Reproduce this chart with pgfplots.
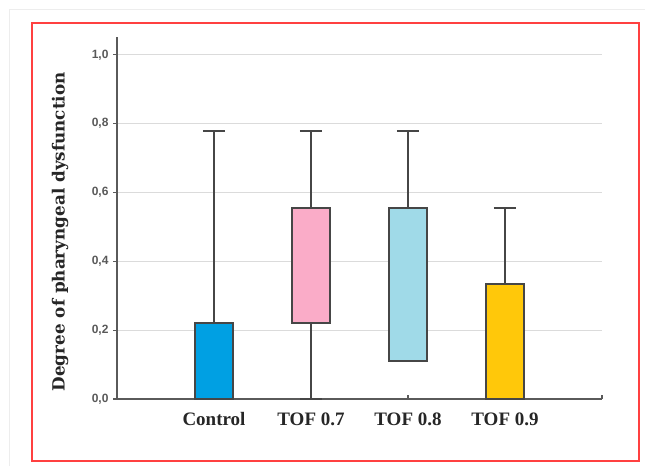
\documentclass[border=0pt]{standalone}
\usepackage{pgfplots}
\pgfplotsset{compat=1.18}
\usepgfplotslibrary{statistics}
\usepackage{fontspec}
\setmainfont{Liberation Serif}
\newfontfamily\tickfont{Liberation Sans}
\newfontfamily\labfont{DejaVu Serif}
\definecolor{cCtrl}{RGB}{0,160,227}
\definecolor{cP}{RGB}{250,172,200}
\definecolor{cLB}{RGB}{160,218,232}
\definecolor{cY}{RGB}{255,200,10}
\definecolor{axgray}{RGB}{90,90,90}
\definecolor{boxline}{RGB}{70,70,70}
\begin{document}
\begin{tikzpicture}
\useasboundingbox (0pt,0pt) rectangle (645pt,466pt);
\draw[black!7, line width=0.8pt] (9pt,0pt) |- (645pt,457pt);
\draw[red!75!white, line width=1.6pt] (32pt,443pt) rectangle (639pt,5pt);
\begin{axis}[
  at={(117pt,67pt)}, anchor=south west,
  scale only axis, width=485pt, height=362pt,
  xmin=0, xmax=5, ymin=0, ymax=1.052,
  clip=false,
  axis lines=left,
  axis line style={-, draw=axgray, line width=1.6pt},
  ymajorgrids,
  grid style={black!14, line width=1.2pt},
  ytick={0,0.2,0.4,0.6,0.8,1.0},
  xtick={1,2,3,4,5},
  xticklabels={Control,TOF 0.7,TOF 0.8,TOF 0.9,},
  xtick align=inside, ytick align=outside,
  major tick length=4pt,
  tick style={draw=axgray, line width=1.2pt},
  boxplot/draw direction=y,
  boxplot/every box/.style={draw=boxline, line width=2.1pt},
  boxplot/every whisker/.style={draw=boxline, line width=1.8pt},
  boxplot/every median/.style={draw=boxline, line width=1.8pt},
  yticklabel style={/pgf/number format/use comma, /pgf/number format/fixed, /pgf/number format/fixed zerofill, /pgf/number format/precision=1, /pgf/number format/assume math mode=true, font=\tickfont\fontsize{12}{14}\selectfont\bfseries, text=black!65, xshift=-1pt},
  xticklabel style={font=\fontsize{19}{22}\selectfont\bfseries, text=black!85, yshift=-10pt},
  ylabel={Degree of pharyngeal dysfunction},
  ylabel style={font=\labfont\fontsize{16.8}{19}\selectfont\bfseries, text=black!85, at={(axis description cs:-0.1175,0.462)}, anchor=center},
]
\addplot[boxplot prepared={draw position=1, lower whisker=0, lower quartile=0, median=0, upper quartile=0.222, upper whisker=0.778, box extend=0.4, whisker extend=0.23}, fill=cCtrl, draw=boxline] coordinates {};
\addplot[boxplot prepared={draw position=2, lower whisker=0, lower quartile=0.222, median=0.222, upper quartile=0.556, upper whisker=0.778, box extend=0.4, whisker extend=0.23}, fill=cP, draw=boxline] coordinates {};
\addplot[boxplot prepared={draw position=3, lower whisker=0.111, lower quartile=0.111, median=0.111, upper quartile=0.556, upper whisker=0.778, box extend=0.4, whisker extend=0.23}, fill=cLB, draw=boxline] coordinates {};
\addplot[boxplot prepared={draw position=4, lower whisker=0, lower quartile=0, median=0, upper quartile=0.333, upper whisker=0.556, box extend=0.4, whisker extend=0.23}, fill=cY, draw=boxline] coordinates {};
\end{axis}
\end{tikzpicture}
\end{document}
